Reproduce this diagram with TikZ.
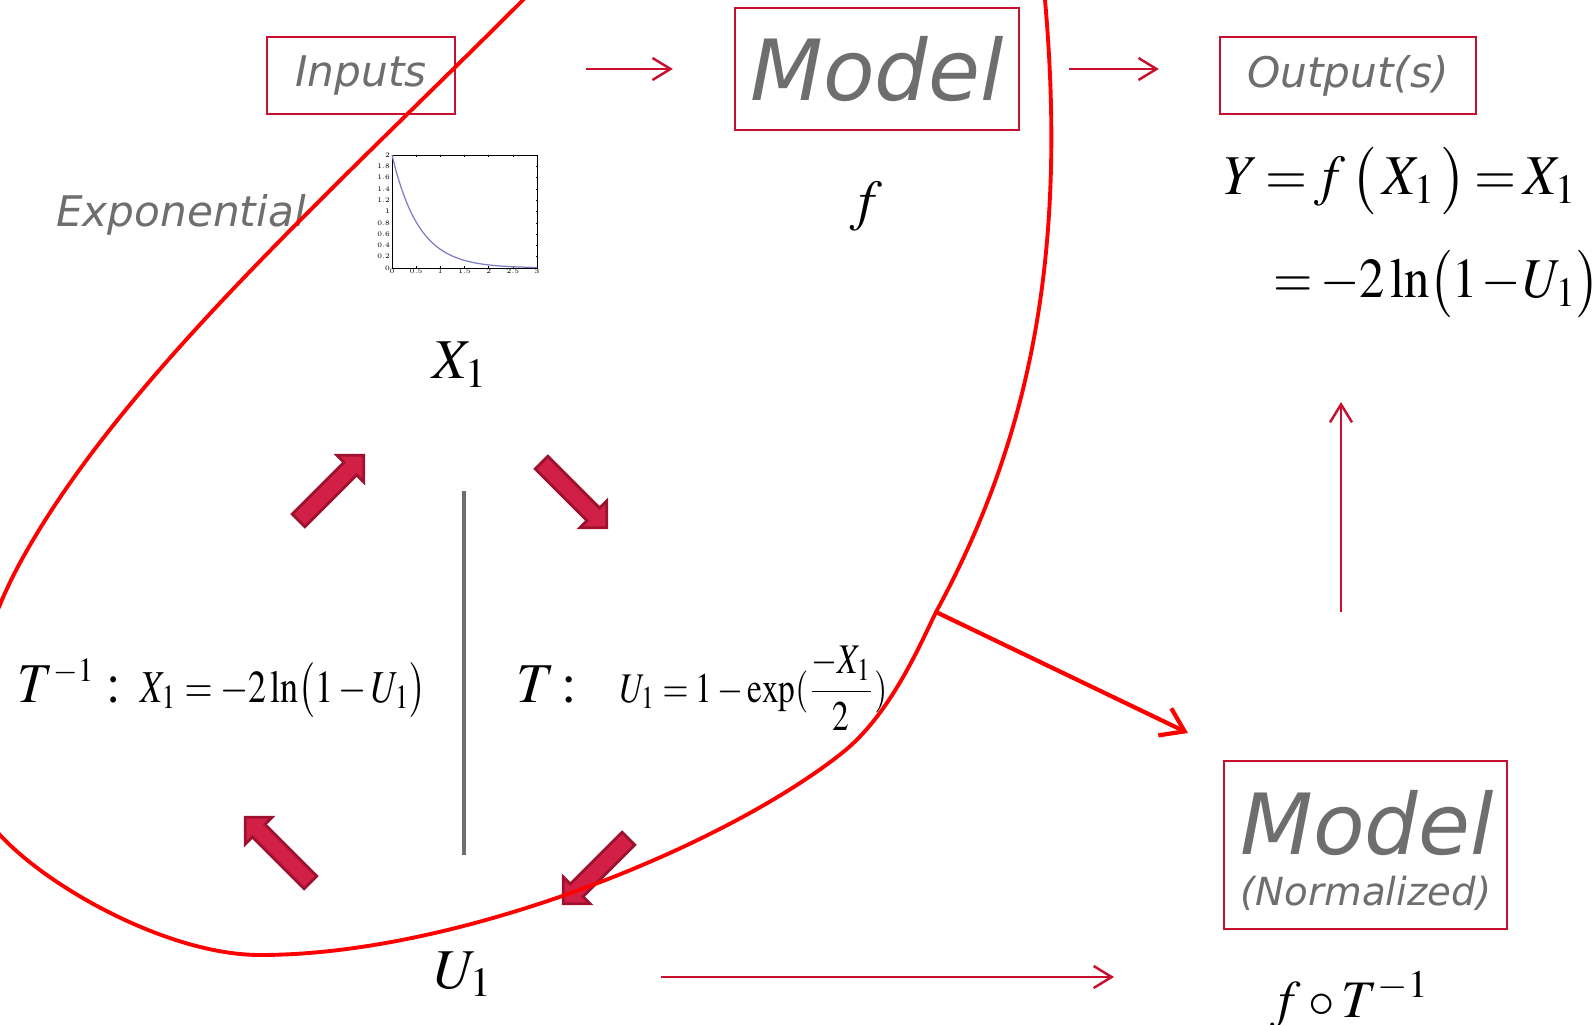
\documentclass[tikz,border=0pt]{standalone}
\usepackage{mathptmx}
\usepackage[no-math]{fontspec}
\newfontfamily\verd{DejaVu Sans}
\usetikzlibrary{positioning,arrows.meta,shapes.arrows}

\definecolor{boxred}{HTML}{C8102E}
\definecolor{txtgray}{HTML}{6E6E6E}
\definecolor{fatred}{HTML}{D21F45}
\definecolor{fatedge}{HTML}{9E1230}
\definecolor{plotblue}{HTML}{7C7CC4}

\tikzset{
  labelbox/.style={draw=boxred, line width=0.6pt, text=txtgray, inner sep=0pt,
    font=\verd\itshape\fontsize{12}{14}\selectfont},
  graytext/.style={text=txtgray, inner sep=0pt, font=\verd\itshape\fontsize{12}{14}\selectfont},
  thinarrow/.style={draw=boxred, line width=0.7pt, -{Straight Barb[length=1.8mm,width=2.2mm]}},
  fatarrow/.style={single arrow, draw=fatedge, fill=fatred, line width=0.8pt,
    inner xsep=0pt, inner ysep=0.075cm, single arrow head extend=0.1cm, minimum height=0.92cm},
  eq/.style={inner sep=0pt, anchor=base west, font=\fontsize{16}{18}\selectfont},
}

\begin{document}
\begin{tikzpicture}[x=0.01cm,y=-0.01cm]
\useasboundingbox (0,0) rectangle (1595,1025);

% Top row
\node[labelbox, minimum width=1.88cm, minimum height=0.77cm] (inputs) at (361,75.5) {Inputs};
\node[labelbox, minimum width=2.84cm, minimum height=1.22cm,
  font=\verd\itshape\fontsize{24}{28}\selectfont] (model) at (877,69) {Model};
\node[labelbox, minimum width=2.56cm, minimum height=0.77cm] (output) at (1348,75.5) {Output(s)};
\draw[thinarrow] (inputs.east |- model.west) ++(130,0) -- ([xshift=-0.61cm]model.west);
\draw[thinarrow] ([xshift=0.49cm]model.east) -- ([xshift=-0.6cm]output.west |- model.east);

\node[eq, anchor=base] (fsym) at (866,220) {$f$};
\node[graytext, anchor=base] (expo) at (181,227) {Exponential};

% small exponential plot
\begin{scope}[shift={(392,268)}, x=0.4833cm, y={(0,0.565cm)}]
  \draw[line width=0.2pt] (0,0) rectangle (3,2);
  \foreach \t in {0,0.5,...,3} {
    \draw[line width=0.15pt] (\t,0) -- ++(0,0.04) (\t,2) -- ++(0,-0.04);
    \node[inner sep=0pt, font=\fontsize{2}{2}\selectfont] at (\t,-0.06) {\t};
  }
  \foreach \v in {0,0.2,...,2.01} {
    \draw[line width=0.15pt] (0,\v) -- ++(0.03,0) (3,\v) -- ++(-0.03,0);
  }
  \foreach \v/\l in {0/0,0.2/0.2,0.4/0.4,0.6/0.6,0.8/0.8,1/1,1.2/1.2,1.4/1.4,1.6/1.6,1.8/1.8,2/2}
    \node[inner sep=0pt, anchor=east, font=\fontsize{2}{2}\selectfont] at (-0.03,\v) {\l};
  \draw[plotblue, line width=0.35pt] plot[domain=0:3, samples=80, smooth] (\x,{2*exp(-1.8*\x)});
\end{scope}

% right column
\node[eq] (yeq) at (1223,195)
  {\thickmuskip=2.5mu\scalebox{0.96}[1]{$Y = f\,\bigl(\,X_1\,\bigr) = X_1$}};
\node[eq] (yeqb) at (1273,298)
  {\thickmuskip=2.5mu\medmuskip=1mu\scalebox{0.9}[1]{$=-2\ln\bigl(1-U_1\bigr)$}};

% transform cycle
\node[eq, anchor=base] (x1) at (460,379) {$X_1$};
\node[eq, anchor=base] (u1) at (464,988) {$U_1$};
\draw[txtgray, line width=1pt] (464,491) -- (464,855);

\node[fatarrow, rotate=45] (faul) at (328,491) {};
\node[fatarrow, rotate=-45] (faur) at (571,492) {};
\node[fatarrow, rotate=135] (fall) at (281,853) {};
\node[fatarrow, rotate=-135] (falr) at (599,868) {};

\node[eq] (tinvlbl) at (17,702) {\scalebox{0.93}[1]{$T^{\scriptscriptstyle -1}\;{:}$}};
\node[eq, font=\fontsize{13}{15}\selectfont] (tinveq) at (140,702)
  {\scalebox{0.79}[1]{$X_1=-2\ln\bigl(1-U_1\bigr)$}};
\node[eq] (tlbl) at (516,702) {$T\,{:}$};
\node[eq, font=\fontsize{12}{14}\selectfont] (teq) at (619,702)
  {\scalebox{0.79}[1]{$U_1=1-\exp(\displaystyle\frac{-X_1}{2})$}};

% normalized model
\node[labelbox, minimum width=2.83cm, minimum height=1.68cm] (normbox) at (1365.5,845) {};
\node[graytext, anchor=base, font=\verd\itshape\fontsize{24}{28}\selectfont] (normtitle) at (1367,854) {Model};
\node[graytext, anchor=base, font=\verd\itshape\fontsize{11}{13}\selectfont] (normsub) at (1366,905) {(Normalized)};
\node[eq, anchor=base, font=\fontsize{15}{17}\selectfont] (fcomp) at (1350,1017) {$f\circ T^{-1}$};

\coordinate (upS) at (1341,612);
\coordinate (upE) at (1341,402);
\draw[thinarrow] (upS) -- (upE);
\coordinate (botS) at (661,977);
\coordinate (botE) at (1114,977);
\draw[thinarrow] (botS) -- (botE);

% red loop
\begin{scope}
  \clip (0,0) rectangle (1595,1025);
  \draw[red, line width=1.1pt] (600,-77) -- (523,0)
    .. controls (323,200) and (120,381) .. (21,561)
    .. controls (-35,663) and (-50,782) .. (0,835)
    .. controls (50,889) and (170,955) .. (260,955)
    .. controls (460,955) and (725,846) .. (842,753)
    .. controls (890,715) and (920,645) .. (936,612)
    .. controls (1032,436) and (1067,250) .. (1045,0) -- (1038,-80);
\end{scope}
\coordinate (loopS) at (936,612);
\coordinate (loopE) at (1188,733);
\draw[red, line width=1.2pt, -{Straight Barb[length=2.2mm,width=3mm]}] (loopS) -- (loopE);

\end{tikzpicture}
\end{document}
